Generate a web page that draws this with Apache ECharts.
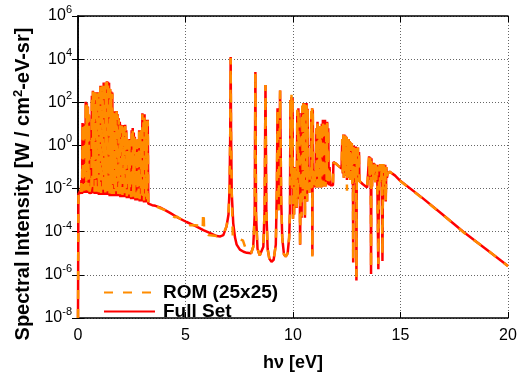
<!DOCTYPE html>
<html><head><meta charset="utf-8">
<script src="https://cdn.jsdelivr.net/npm/echarts@6/dist/echarts.min.js"></script>
<style>html,body{margin:0;padding:0;background:#fff}#c{width:525px;height:377px}</style>
</head><body><div id="c"></div>
<script>
// x ticks (eV) and y decades (log10 of W/cm2-eV-sr)
const xTicks = [0, 5, 10, 15, 20];
const yDecades = [-8, -6, -4, -2, 0, 2, 4, 6];

// Full Set spectrum: [photon energy eV, log10 intensity]
const fullSet = [
[0.00,-8],[0.02,-2.25],[0.05,-2.2],[0.08,-2.25],[0.10,-2.1],[0.13,-2.25],[0.16,-1.6],[0.19,-2.25],
[0.21,1.04],[0.235,-2.2],[0.26,0.9],[0.285,-2.2],[0.31,1.0],[0.335,-2.1],[0.36,2.02],[0.385,-2.2],
[0.41,1.95],[0.435,-1.0],[0.46,1.8],[0.485,-2.2],[0.51,1.4],[0.535,-2.25],[0.56,-2.2],[0.59,-1.9],
[0.62,-2.25],[0.645,2.3],[0.67,-2.2],[0.695,2.54],[0.72,-1.5],[0.745,2.4],[0.77,-2.25],[0.795,2.47],
[0.82,-2.0],[0.845,2.3],[0.87,-2.25],[0.895,2.47],[0.92,-1.2],[0.945,2.4],[0.97,-2.3],[0.995,2.45],
[1.02,-2.0],[1.045,2.77],[1.07,-2.3],[1.095,2.6],[1.12,-1.5],[1.145,2.75],[1.17,-2.3],[1.195,2.92],
[1.22,-2.1],[1.245,2.85],[1.27,-2.3],[1.295,2.9],[1.32,-1.8],[1.345,2.97],[1.37,-2.3],[1.395,2.95],
[1.42,-2.0],[1.445,2.9],[1.47,-2.35],[1.495,2.6],[1.52,-2.2],[1.545,2.5],[1.57,-2.35],[1.595,2.45],
[1.62,-1.8],[1.645,1.58],[1.67,-2.35],[1.695,1.5],[1.72,-2.1],[1.745,1.58],[1.77,-2.35],[1.795,1.6],
[1.82,-1.6],[1.845,1.45],[1.87,-2.35],[1.895,1.26],[1.92,-2.2],[1.945,1.1],[1.97,-2.4],[1.995,0.96],
[2.02,-1.4],[2.045,0.9],[2.07,-2.4],[2.095,0.95],[2.12,-2.0],[2.145,0.85],[2.17,-2.4],[2.195,0.96],
[2.22,-2.3],[2.245,0.7],[2.27,-2.45],[2.295,0.3],[2.32,-1.8],[2.345,0.25],[2.37,-2.45],[2.395,0.3],
[2.42,-2.2],[2.445,0.2],[2.47,-2.5],[2.495,0.7],[2.52,-2.0],[2.545,0.81],[2.57,-2.5],[2.595,0.6],
[2.62,-2.3],[2.645,0.4],[2.67,-2.55],[2.695,0.27],[2.72,-1.9],[2.745,0.2],[2.77,-2.55],[2.795,0.27],
[2.82,-2.4],[2.845,0.7],[2.87,-2.6],[2.895,0.6],[2.92,-2.2],[2.945,0.7],[2.97,-2.6],[2.995,1.49],
[3.02,-2.5],[3.045,1.3],[3.07,-2.65],[3.095,1.45],[3.12,-2.3],[3.145,1.19],[3.17,-2.65],[3.195,1.1],
[3.22,-2.6],[3.245,1.19],[3.27,-2.7],[3.30,-2.7],
[3.45,-2.77],[3.6,-2.8],[3.81,-2.87],[4.05,-3.0],[4.28,-3.13],[4.6,-3.32],[5.05,-3.55],[5.45,-3.73],
[5.83,-3.93],[6.15,-4.07],[6.45,-4.2],[6.62,-4.22],[6.76,-4.16],[6.91,-3.75],[7.0,-3.2],[7.05,-2.0],
[7.08,0.5],[7.10,4.1],[7.12,0.5],[7.15,-2.2],[7.22,-3.6],[7.3,-4.25],[7.38,-4.6],[7.53,-4.83],
[7.7,-4.93],[7.85,-4.98],[8.05,-5.0],
[8.15,-4.7],[8.22,-3.2],[8.25,3.4],[8.28,-3.2],[8.35,-4.8],[8.45,-5.1],[8.54,-5.12],[8.62,-4.7],
[8.68,-3.0],[8.72,2.8],[8.76,-3.0],[8.82,-4.8],[8.9,-5.25],[9.0,-5.4],[9.1,-5.3],[9.2,-4.6],
[9.25,-2.0],[9.28,1.72],[9.31,-1.0],[9.34,-3.0],[9.40,2.54],[9.45,-2.5],[9.5,-4.3],[9.58,-5.05],
[9.66,-5.15],[9.75,-5.0],[9.82,-4.3],
[9.86,-3.0],[9.88,2.1],[9.905,-1.5],[9.93,2.25],[9.955,-2.0],[9.98,2.2],[10.00,-3.4],
[10.03,-1.0],[10.05,-3.2],[10.08,-1.0],[10.11,-2.8],[10.14,-1.1],[10.17,-2.9],
[10.20,1.6],[10.225,-2.5],[10.25,1.72],[10.275,-1.5],[10.30,1.5],[10.33,-4.6],[10.36,-1.2],[10.40,-3.35],
[10.43,1.8],[10.455,-2.5],[10.48,1.97],[10.505,-2.0],[10.53,1.9],[10.555,-3.35],[10.58,1.95],[10.605,-2.0],
[10.63,1.97],[10.655,-2.6],[10.68,1.7],[10.705,-2.0],
[10.73,-1.15],[10.76,-2.2],[10.79,-1.2],[10.82,-2.0],
[10.85,1.6],[10.875,-1.8],[10.89,1.72],[10.90,-5.1],[10.92,1.65],[10.945,-1.9],
[10.97,-1.15],[11.00,-1.95],[11.03,-1.2],[11.06,-1.9],
[11.09,0.8],[11.115,-1.95],[11.14,1.1],[11.165,-1.8],[11.19,0.9],[11.215,-1.95],[11.24,0.8],[11.265,-1.6],
[11.29,0.9],[11.315,-1.95],[11.34,1.0],[11.365,-1.6],[11.39,1.19],[11.415,-1.9],[11.44,1.1],[11.465,-1.5],
[11.49,1.19],[11.515,-1.9],[11.54,1.0],[11.565,-1.6],[11.59,1.1],[11.615,-1.8],[11.64,0.8],[11.665,-1.85],
[11.70,-1.0],[11.74,-1.85],[11.80,-1.9],[11.86,-1.85],[11.88,-0.77],[12.00,-0.85],[12.15,-0.98],[12.26,-1.07],
[12.29,0.3],[12.315,-1.3],[12.34,0.51],[12.365,-1.5],[12.39,0.5],[12.415,-1.2],[12.44,0.45],[12.465,-1.4],
[12.49,0.4],[12.51,-1.6],[12.535,0.2],[12.56,-1.3],[12.585,0.3],[12.61,-1.5],[12.635,0.2],[12.66,-1.6],
[12.685,0.13],[12.71,-1.6],[12.735,0.1],[12.76,-1.8],[12.785,0.0],[12.80,-5.43],[12.82,0.0],[12.845,-1.5],
[12.87,-0.1],[12.895,-1.7],[12.92,-0.05],[12.94,-1.8],[12.95,-6.26],[12.97,-0.2],[12.995,-1.6],[13.02,-0.1],
[13.045,-1.7],[13.07,-0.3],[13.09,-1.65],[13.25,-1.8],[13.45,-1.95],[13.52,-1.97],
[13.54,-0.5],[13.565,-1.6],[13.59,-0.55],[13.615,-1.5],[13.63,-5.96],[13.65,-0.6],[13.675,-1.9],
[13.70,-0.9],[13.725,-1.6],[13.75,-0.81],[13.775,-1.5],[13.80,-0.85],[13.825,-1.7],[13.85,-0.9],[13.875,-1.6],
[13.90,-0.9],[13.925,-1.8],[13.97,-5.74],[14.00,-1.4],[14.025,-0.9],[14.05,-1.7],[14.075,-0.86],[14.10,-1.6],
[14.125,-0.9],[14.16,-5.36],[14.19,-0.86],[14.215,-1.8],[14.24,-0.9],[14.265,-2.3],[14.29,-0.9],[14.315,-2.6],
[14.34,-1.0],[14.37,-1.5],[14.40,-1.3],[14.50,-1.22],[14.75,-1.4],[15.00,-1.65],[16.00,-2.42],
[17.00,-3.24],[17.92,-4.0],[19.00,-4.82],[20.00,-5.59]
];

// ROM (25x25) spectrum: [photon energy eV, log10 intensity]
const rom = [
[0.00,-8],[0.02,-2.2],[0.05,-2.15],[0.08,-2.2],[0.10,-2.05],[0.13,-2.2],[0.16,-1.6],[0.19,-2.15],
[0.21,1.0],[0.235,-2.1],[0.26,0.95],[0.285,-2.1],[0.31,1.04],[0.335,-2.0],[0.36,2.0],[0.385,-2.1],
[0.41,1.9],[0.435,-1.0],[0.46,1.85],[0.485,-2.1],[0.51,1.45],[0.535,-2.15],[0.56,-2.1],[0.59,-1.9],
[0.62,-2.15],[0.645,2.3],[0.67,-2.1],[0.695,2.5],[0.72,-1.5],[0.745,2.4],[0.77,-2.15],[0.795,2.47],
[0.82,-1.9],[0.845,2.35],[0.87,-2.15],[0.895,2.45],[0.92,-1.2],[0.945,2.4],[0.97,-2.2],[0.995,2.47],
[1.02,-1.9],[1.045,2.75],[1.07,-2.2],[1.095,2.65],[1.12,-1.5],[1.145,2.77],[1.17,-2.2],[1.195,2.9],
[1.22,-2.0],[1.245,2.88],[1.27,-2.2],[1.295,2.92],[1.32,-1.8],[1.345,2.95],[1.37,-2.2],[1.395,2.97],
[1.42,-1.9],[1.445,2.85],[1.47,-2.25],[1.495,2.62],[1.52,-2.1],[1.545,2.5],[1.57,-2.25],[1.595,2.4],
[1.62,-1.8],[1.645,1.6],[1.67,-2.25],[1.695,1.5],[1.72,-2.0],[1.745,1.55],[1.77,-2.25],[1.795,1.58],
[1.82,-1.6],[1.845,1.4],[1.87,-2.25],[1.895,1.2],[1.92,-2.1],[1.945,1.1],[1.97,-2.3],[1.995,0.9],
[2.02,-1.4],[2.045,0.92],[2.07,-2.3],[2.095,0.9],[2.12,-1.9],[2.145,0.85],[2.17,-2.3],[2.195,0.9],
[2.22,-2.2],[2.245,0.65],[2.27,-2.35],[2.295,0.3],[2.32,-1.8],[2.345,0.2],[2.37,-2.35],[2.395,0.3],
[2.42,-2.1],[2.445,0.25],[2.47,-2.4],[2.495,0.7],[2.52,-1.9],[2.545,0.8],[2.57,-2.4],[2.595,0.55],
[2.62,-2.2],[2.645,0.4],[2.67,-2.45],[2.695,0.25],[2.72,-1.9],[2.745,0.2],[2.77,-2.45],[2.795,0.3],
[2.82,-2.3],[2.845,0.7],[2.87,-2.5],[2.895,0.65],[2.92,-2.1],[2.945,0.7],[2.97,-2.5],[2.995,1.45],
[3.02,-2.4],[3.045,1.3],[3.07,-2.55],[3.095,1.4],[3.12,-2.2],[3.145,1.2],[3.17,-2.55],[3.195,1.1],
[3.22,-2.5],[3.245,1.15],[3.27,-2.65],[3.30,-2.7],
[3.45,-2.75],[3.81,-2.9],[4.05,-3.0],[4.25,-3.18],[4.5,-3.33],[4.6,-3.3],[4.98,-3.55],[5.2,-3.7],
[5.44,-3.7],[5.67,-3.72],[5.80,-3.9],[5.82,-3.1],[5.85,-3.35],[5.87,-4.0],[6.06,-4.15],[6.45,-4.2],
[6.62,-4.12],[6.76,-4.1],[6.91,-3.75],[7.0,-3.2],[7.05,-2.0],[7.08,0.5],[7.10,4.05],[7.12,0.5],
[7.15,-2.2],[7.2,-4.25],[7.5,-4.35],[7.67,-4.4],[7.85,-4.95],[8.05,-5.0],
[8.15,-4.7],[8.22,-3.2],[8.25,3.43],[8.28,-3.2],[8.35,-4.8],[8.45,-5.1],[8.54,-5.12],[8.62,-4.7],
[8.68,-3.0],[8.72,2.8],[8.76,-3.0],[8.82,-4.8],[8.9,-5.25],[9.0,-5.4],[9.1,-5.3],[9.2,-4.6],
[9.25,-2.0],[9.28,1.72],[9.31,-1.0],[9.34,-3.0],[9.40,2.54],[9.45,-2.5],[9.5,-4.3],[9.58,-5.05],
[9.66,-5.15],[9.75,-5.0],[9.82,-4.3],
[9.86,-3.0],[9.88,2.15],[9.905,-1.5],[9.93,2.35],[9.955,-2.0],[9.98,2.25],[10.00,-3.4],
[10.03,-1.0],[10.05,-3.2],[10.08,-1.0],[10.11,-2.8],[10.14,-1.1],[10.17,-2.9],
[10.20,1.65],[10.225,-2.5],[10.25,1.72],[10.275,-1.5],[10.30,1.5],[10.33,-4.75],[10.36,-1.2],[10.40,-3.3],
[10.43,1.85],[10.455,-2.5],[10.48,1.95],[10.505,-2.0],[10.53,1.92],[10.555,-3.3],[10.58,1.97],[10.605,-2.0],
[10.63,1.95],[10.655,-2.6],[10.68,1.7],[10.705,-2.0],
[10.73,-1.15],[10.76,-2.2],[10.79,-1.2],[10.82,-2.0],
[10.85,1.6],[10.875,-1.8],[10.89,1.72],[10.90,-5.15],[10.92,1.65],[10.945,-1.9],
[10.97,-1.15],[11.00,-1.95],[11.03,-1.2],[11.06,-1.9],
[11.09,0.8],[11.115,-1.95],[11.14,1.1],[11.165,-1.8],[11.19,0.9],[11.215,-1.95],[11.24,0.8],[11.265,-1.6],
[11.29,0.9],[11.315,-1.95],[11.34,1.0],[11.365,-1.6],[11.39,1.15],[11.415,-1.9],[11.44,1.1],[11.465,-1.5],
[11.49,1.19],[11.515,-1.9],[11.54,1.0],[11.565,-1.6],[11.59,1.1],[11.615,-1.8],[11.64,0.8],[11.665,-1.85],
[11.70,-1.0],[11.74,-1.85],[11.80,-1.9],[11.86,-1.85],[11.88,-0.8],[12.00,-0.85],[12.15,-0.98],[12.26,-1.07],
[12.29,0.3],[12.315,-1.3],[12.34,0.5],[12.365,-1.5],[12.39,0.5],[12.415,-1.2],[12.44,0.45],[12.465,-1.4],
[12.49,0.4],[12.51,-2.1],[12.535,0.2],[12.56,-1.3],[12.585,0.3],[12.61,-1.5],[12.635,0.2],[12.66,-1.6],
[12.685,0.13],[12.71,-1.6],[12.735,0.1],[12.76,-1.8],[12.785,0.0],[12.80,-5.3],[12.82,0.0],[12.845,-1.5],
[12.87,-0.1],[12.895,-1.7],[12.92,-0.05],[12.94,-1.8],[12.95,-6.1],[12.97,-0.2],[12.995,-1.6],[13.02,-0.1],
[13.045,-1.7],[13.07,-0.3],[13.09,-1.65],[13.25,-1.8],[13.45,-1.95],[13.52,-1.97],
[13.54,-0.5],[13.565,-1.6],[13.59,-0.55],[13.615,-1.5],[13.63,-5.7],[13.65,-0.6],[13.675,-1.9],
[13.70,-0.9],[13.725,-1.6],[13.75,-0.81],[13.775,-1.5],[13.80,-0.85],[13.825,-1.7],[13.85,-0.9],[13.875,-1.6],
[13.90,-0.9],[13.925,-1.8],[13.97,-5.5],[14.00,-1.4],[14.025,-0.9],[14.05,-1.7],[14.075,-0.86],[14.10,-1.6],
[14.125,-0.9],[14.16,-5.06],[14.19,-0.86],[14.215,-1.8],[14.24,-0.9],[14.265,-2.3],[14.29,-0.9],[14.315,-2.6],
[14.34,-1.0],[14.37,-1.5],[14.40,-1.3],[14.50,-1.22],[14.75,-1.42],[15.00,-1.66],[16.00,-2.44],
[17.00,-3.24],[17.92,-4.02],[19.00,-4.82],[20.00,-5.6]
];

const FONT = 'Liberation Sans, Arial, Helvetica, sans-serif';
const toSeries = pts => pts.map(p => [p[0], Math.pow(10, p[1])]);

const chart = echarts.init(document.getElementById('c'), null, {renderer: 'canvas'});
const yLabel = v => {
  const e = Math.round(Math.log10(v));
  return yDecades.indexOf(e) >= 0 ? '{b|10}{e|' + e + '}' : '';
};
const axisLineStyle = {color: '#000', width: 1.5};
const legendBase = {
  orient: 'vertical', left: 98,
  itemWidth: 51, itemHeight: 14,
  itemStyle: {opacity: 0},
  textStyle: {fontSize: 19, fontWeight: 'bold', color: '#000', fontFamily: FONT, padding: [0, 0, 0, 3]}
};
chart.setOption({
  animation: false,
  backgroundColor: '#fff',
  textStyle: {fontFamily: FONT},
  grid: {left: 78, right: 17, top: 16, bottom: 52},
  legend: [
    Object.assign({data: ['ROM (25x25)'], top: 278}, legendBase),
    Object.assign({data: ['Full Set'], top: 297}, legendBase)
  ],
  xAxis: [{
    type: 'value', min: xTicks[0], max: xTicks[xTicks.length - 1], interval: 5, position: 'bottom',
    axisLine: {show: true, lineStyle: axisLineStyle},
    axisTick: {show: true, inside: true, length: 6, lineStyle: {color: '#000'}},
    axisLabel: {fontSize: 16, color: '#000', margin: 10, fontFamily: FONT},
    splitLine: {show: true, lineStyle: {type: [1, 2], color: '#666', width: 1}},
    name: 'h\u03bd [eV]', nameLocation: 'middle', nameGap: 36,
    nameTextStyle: {fontSize: 18, fontWeight: 'bold', color: '#000', fontFamily: FONT}
  }, {
    type: 'value', min: xTicks[0], max: xTicks[xTicks.length - 1], interval: 5, position: 'top',
    axisLine: {show: true, lineStyle: axisLineStyle},
    axisTick: {show: true, inside: true, length: 6, lineStyle: {color: '#000'}},
    axisLabel: {show: false}, splitLine: {show: false}
  }],
  yAxis: [{
    type: 'log', logBase: 10, min: 1e-8, max: 1e6, interval: 2, position: 'left',
    axisLine: {show: true, lineStyle: axisLineStyle},
    axisTick: {show: true, inside: true, length: 6, lineStyle: {color: '#000'}},
    axisLabel: {
      formatter: yLabel, margin: 6, color: '#000',
      rich: {
        b: {fontSize: 16, fontFamily: FONT, color: '#000'},
        e: {fontSize: 11, fontFamily: FONT, color: '#000', padding: [0, 0, 12, 0]}
      }
    },
    splitLine: {show: true, lineStyle: {type: [1, 2], color: '#666', width: 1}},
    name: 'Spectral Intensity [W / cm{s|2}-eV-sr]', nameLocation: 'middle', nameGap: 27, nameRotate: 90,
    nameTextStyle: {
      fontSize: 20, fontWeight: 'bold', color: '#000', fontFamily: FONT, padding: [0, 34, 0, 0],
      rich: {s: {fontSize: 13, fontWeight: 'bold', fontFamily: FONT, color: '#000', padding: [0, 0, 11, 0]}}
    }
  }, {
    type: 'log', logBase: 10, min: 1e-8, max: 1e6, interval: 2, position: 'right',
    axisLine: {show: true, lineStyle: axisLineStyle},
    axisTick: {show: true, inside: true, length: 6, lineStyle: {color: '#000'}},
    axisLabel: {show: false}, splitLine: {show: false}
  }],
  series: [{
    name: 'Full Set', type: 'line', xAxisIndex: 0, yAxisIndex: 0,
    data: toSeries(fullSet), symbol: 'none', z: 2,
    lineStyle: {color: '#ff0000', width: 2.5}, itemStyle: {color: '#ff0000'}
  }, {
    name: 'ROM (25x25)', type: 'line', xAxisIndex: 0, yAxisIndex: 0,
    data: toSeries(rom), symbol: 'none', z: 3,
    lineStyle: {color: '#ff8c00', width: 2.5, type: [9, 10]}, itemStyle: {color: '#ff8c00'}
  }]
});
</script>
</body></html>
